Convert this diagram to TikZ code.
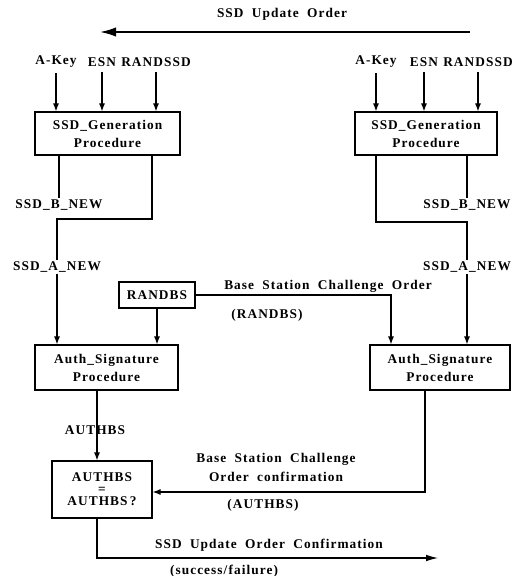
\documentclass[tikz,border=0pt]{standalone}
\usepackage{fontspec}
\usetikzlibrary{arrows.meta}
\newfontfamily\diafont{Liberation Serif}[LetterSpace=8,WordSpace=1.9]
\begin{document}
\begin{tikzpicture}[x=0.75pt,y=-0.75pt,
  every node/.style={font=\diafont\bfseries\fontsize{10}{13.5}\selectfont, inner sep=1pt},
  box/.style={draw, line width=0.9pt, align=center, inner sep=0pt},
  lbl/.style={align=center},
  wire/.style={line width=0.8pt},
  arr/.style={wire, -{Latex[length=6pt,width=4.5pt]}},
  midarr/.style={wire, -{Latex[length=9pt,width=5pt]}},
  bigarr/.style={line width=1.3pt, -{Latex[length=12pt,width=7pt]}}
]
\useasboundingbox (0,0) rectangle (518,576);

% top message
\node (title) at (282,14) {SSD Update Order};
\coordinate (topR) at (470,32);
\coordinate (topL) at (100,32);
\draw[bigarr] (topR) -- (topL);

% left generation
\node (lak) at (56,62) {A-Key};
\node (lesn) at (102,62) {ESN};
\node (lrand) at (156,62) {RANDSSD};
\node[box, minimum width=108.75pt, minimum height=32.25pt] (lgen) at (107.5,133.5) {SSD\_Generation\\Procedure};
\draw[arr, shorten <=3pt] (lak.south) -- (lak.south |- lgen.north);
\draw[arr, shorten <=3pt] (lesn.south) -- (lesn.south |- lgen.north);
\draw[arr, shorten <=3pt] (lrand.south) -- (lrand.south |- lgen.north);

% right generation
\node (rak) at (376,62) {A-Key};
\node (resn) at (424,62) {ESN};
\node (rrand) at (478,62) {RANDSSD};
\node[box, minimum width=106.5pt, minimum height=32.25pt] (rgen) at (426,133.5) {SSD\_Generation\\Procedure};
\draw[arr, shorten <=3pt] (rak.south) -- (rak.south |- rgen.north);
\draw[arr, shorten <=3pt] (resn.south) -- (resn.south |- rgen.north);
\draw[arr, shorten <=3pt] (rrand.south) -- (rrand.south |- rgen.north);

% left outputs
\node (lbnew) at (59,205) {SSD\_B\_NEW};
\draw[wire] (lgen.south -| lbnew.north) -- (lbnew.north);
\coordinate (lb1) at (152,219);
\coordinate (lb2) at (57,219);
\node (lanew) at (57,267) {SSD\_A\_NEW};
\draw[wire] (lgen.south -| lb1) -- (lb1) -- (lb2) -- (lanew.north);
\node[box, minimum width=107.25pt, minimum height=33.75pt] (lauth) at (106.5,367.5) {Auth\_Signature\\Procedure};
\draw[arr] (lanew.south) -- (lanew.south |- lauth.north);

% right outputs
\node (rbnew) at (467,205) {SSD\_B\_NEW};
\draw[wire] (rgen.south -| rbnew.north) -- (rbnew.north);
\coordinate (rb1) at (376,222);
\coordinate (rb2) at (467,222);
\node (ranew) at (467,267) {SSD\_A\_NEW};
\draw[wire] (rgen.south -| rb1) -- (rb1) -- (rb2) -- (ranew.north);
\node[box, minimum width=105pt, minimum height=33.75pt] (rauth) at (440,367.5) {Auth\_Signature\\Procedure};
\draw[arr] (ranew.south) -- (ranew.south |- rauth.north);

% RANDBS
\node[box, minimum width=57pt, minimum height=19.5pt] (randbs) at (157,295) {RANDBS};
\coordinate (rbs) at (391,295);
\draw[arr] (randbs.east) -- (randbs.east -| rbs) -- (rbs |- rauth.north);
\node[anchor=south] (bsco) at (328,294) {Base Station Challenge Order};
\node (randbsl) at (267,315) {(RANDBS)};
\draw[arr] (randbs.south) -- (randbs.south |- lauth.north);

% comparison
\node[box, minimum width=75pt, minimum height=42.75pt,
  font=\diafont\bfseries\fontsize{10}{9}\selectfont] (cmp) at (102,489.5) {AUTHBS\\=\\AUTHBS\,?};
\coordinate (cx) at (97,430);
\draw[arr] (lauth.south -| cx) -- (cx |- cmp.north);
\node (authbsl) at (95,430) {AUTHBS};

\coordinate (cf) at (425,492);
\draw[arr] (rauth.south -| cf) -- (cf) -- (cf -| cmp.east);
\node[lbl, font=\diafont\bfseries\fontsize{10}{14}\selectfont] (bscoc) at (276,467.5) {Base Station Challenge\\Order confirmation};
\node (authbsl2) at (263,505) {(AUTHBS)};

% final confirmation
\coordinate (b1) at (97,558);
\coordinate (b2) at (438,558);
\draw[midarr] (cmp.south -| b1) -- (b1) -- (b2);
\node (sucl) at (269,545) {SSD Update Order Confirmation};
\node (suc2) at (224,571) {(success/failure)};
\end{tikzpicture}
\end{document}
